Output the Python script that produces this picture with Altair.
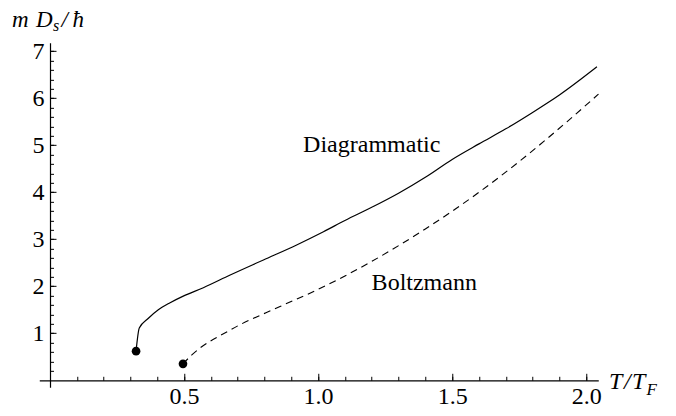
import altair as alt
import pandas as pd

# ---- data ----
diag_T = [0.321, 0.333, 0.367, 0.404, 0.448, 0.497, 0.572, 0.672, 0.796, 0.920,
          1.020, 1.100, 1.200, 1.300, 1.400, 1.500, 1.600, 1.700, 1.800, 1.900, 2.040]
diag_D = [0.62, 1.11, 1.32, 1.50, 1.65, 1.79, 1.97, 2.24, 2.56, 2.88,
          3.16, 3.40, 3.68, 3.98, 4.32, 4.70, 5.03, 5.35, 5.70, 6.07, 6.67]

bolt_T = [0.496, 0.529, 0.672, 0.858, 0.995, 1.100, 1.200, 1.400, 1.600, 1.760, 1.928, 2.046]
bolt_D = [0.35, 0.54, 1.07, 1.57, 1.92, 2.22, 2.53, 3.22, 4.00, 4.70, 5.50, 6.09]

dot_T = [0.321, 0.496]
dot_D = [0.62, 0.35]

label_text = ["Diagrammatic", "Boltzmann"]
label_T = [1.200, 1.396]
label_D = [4.86, 1.92]

x_major = [0.5, 1.0, 1.5, 2.0]
x_minor = [round(0.1 * i, 1) for i in range(1, 21)]
y_major = [1, 2, 3, 4, 5, 6, 7]
y_minor = [round(0.2 * i, 1) for i in range(1, 36)]

# ---- layout ----
XMIN, XMAX = -0.04, 2.045
YMIN, YMAX = -0.15, 7.18
W, H = 559, 344.5
LEFT, TOP = 39.28, 42.84
FONT = "Liberation Serif"

xs = alt.Scale(domain=[XMIN, XMAX], nice=False, zero=False)
ys = alt.Scale(domain=[YMIN, YMAX], nice=False, zero=False)

off_bottom = -H * (0 - YMIN) / (YMAX - YMIN)
off_top = -H * (YMAX - 0) / (YMAX - YMIN)
off_left = -W * (0 - XMIN) / (XMAX - XMIN)
off_right = -W * (XMAX - 0) / (XMAX - XMIN)

ax_x_lab = alt.Axis(orient="bottom", offset=off_bottom, values=x_major, format=".1f",
                    ticks=False, grid=False, domain=True, domainColor="black",
                    domainWidth=1.2, labelFont=FONT, labelFontSize=24, labelColor="black",
                    labelPadding=4, labelOverlap=False, labelFlush=False, title=None)
ax_y_lab = alt.Axis(orient="left", offset=off_left, values=y_major, format="d",
                    ticks=False, grid=False, domain=True, domainColor="black",
                    domainWidth=1.2, labelFont=FONT, labelFontSize=24, labelColor="black",
                    labelPadding=6, labelOverlap=False, labelFlush=False, title=None)
ax_x_maj = alt.Axis(orient="top", offset=off_top, values=x_major, labels=False,
                    domain=False, ticks=True, tickSize=7, tickColor="black",
                    tickWidth=1, grid=False, title=None)
ax_y_maj = alt.Axis(orient="right", offset=off_right, values=y_major, labels=False,
                    domain=False, ticks=True, tickSize=6, tickColor="black",
                    tickWidth=1, grid=False, title=None)
ax_x_min = alt.Axis(orient="top", offset=off_top, values=x_minor, labels=False,
                    domain=False, ticks=True, tickSize=4, tickColor="black",
                    tickWidth=1, grid=False, title=None)
ax_y_min = alt.Axis(orient="right", offset=off_right, values=y_minor, labels=False,
                    domain=False, ticks=True, tickSize=3.5, tickColor="black",
                    tickWidth=1, grid=False, title=None)

diag = pd.DataFrame({"T": diag_T, "D": diag_D})
bolt = pd.DataFrame({"T": bolt_T, "D": bolt_D})
dots = pd.DataFrame({"T": dot_T, "D": dot_D})
labels = pd.DataFrame({"T": label_T, "D": label_D, "txt": label_text})
one = pd.DataFrame({"a": [0]})

l_diag = alt.Chart(diag).mark_line(color="black", strokeWidth=1.2, interpolate="monotone").encode(
    x=alt.X("T:Q", scale=xs, axis=ax_x_lab),
    y=alt.Y("D:Q", scale=ys, axis=ax_y_lab),
    order="T:Q",
)
l_bolt = alt.Chart(bolt).mark_line(color="black", strokeWidth=1.1, strokeDash=[7, 5],
                                   interpolate="monotone").encode(
    x=alt.X("T:Q", scale=xs, axis=ax_x_maj),
    y=alt.Y("D:Q", scale=ys, axis=ax_y_maj),
    order="T:Q",
)
l_dots = alt.Chart(dots).mark_point(filled=True, color="black", size=75, opacity=1).encode(
    x=alt.X("T:Q", scale=xs, axis=ax_x_min),
    y=alt.Y("D:Q", scale=ys, axis=ax_y_min),
)
l_labels = alt.Chart(labels).mark_text(font=FONT, fontSize=24, color="black",
                                       align="center", baseline="alphabetic").encode(
    x=alt.X("T:Q", scale=xs, axis=None),
    y=alt.Y("D:Q", scale=ys, axis=None),
    text="txt:N",
)

def txt(s, px, py, size, italic=True):
    return alt.Chart(one).mark_text(text=s, font=FONT, fontSize=size, color="black",
                                    fontStyle="italic" if italic else "normal",
                                    align="left", baseline="alphabetic").encode(
        x=alt.value(px - LEFT), y=alt.value(py - TOP))

titles = [
    txt("m", 12.0, 27.0, 23),
    txt("D", 36.0, 27.0, 23),
    txt("s", 53.0, 31.0, 16),
    txt("/", 61.5, 27.0, 23),
    txt("ħ", 72.5, 27.0, 23),
    txt("T", 609.0, 388.5, 24),
    txt("/", 624.0, 388.5, 24),
    txt("T", 632.0, 388.5, 24),
    txt("F", 646.5, 394.5, 17),
]

chart = alt.layer(l_diag, l_bolt, l_dots, l_labels, *titles).resolve_axis(
    x="independent", y="independent"
).properties(
    width=W, height=H,
    autosize=alt.AutoSizeParams(type="none"),
    padding={"left": LEFT, "top": TOP, "right": 676 - LEFT - W, "bottom": 416 - TOP - H},
    background="white",
).configure_view(stroke=None)

chart.save("out.html", embed_options={"renderer": "svg", "actions": False})
